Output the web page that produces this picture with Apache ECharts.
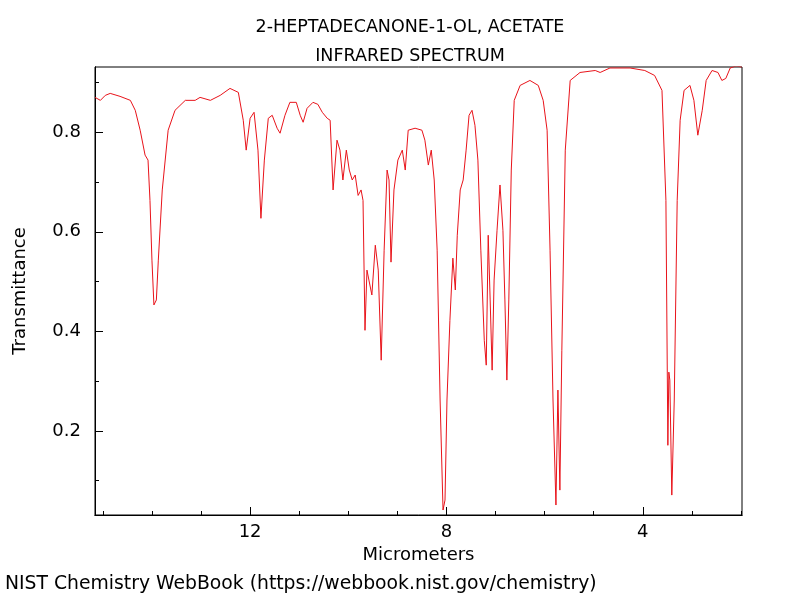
<!DOCTYPE html>
<html>
<head>
<meta charset="utf-8">
<script src="https://cdn.jsdelivr.net/npm/echarts@6/dist/echarts.min.js"></script>
<style>
    html, body { margin: 0; padding: 0; background: #fff; }
    #chart { width: 800px; height: 600px; }
</style>
</head>
<body>
<div id="chart"></div>
<script>
// wavelength (micrometers) and transmittance
const wavelength = [15.16, 15.05, 14.95, 14.85, 14.65, 14.44, 14.34, 14.24, 14.14, 14.08, 14.04, 14.00, 13.96, 13.91, 13.87, 13.79, 13.67, 13.53, 13.32, 13.12, 13.02, 12.81, 12.61, 12.41, 12.24, 12.14, 12.08, 12.00, 11.92, 11.84, 11.78, 11.71, 11.63, 11.55, 11.45, 11.39, 11.29, 11.19, 11.06, 10.98, 10.92, 10.84, 10.72, 10.62, 10.53, 10.43, 10.37, 10.31, 10.23, 10.17, 10.11, 10.04, 9.98, 9.92, 9.86, 9.80, 9.74, 9.70, 9.66, 9.62, 9.58, 9.52, 9.45, 9.39, 9.33, 9.27, 9.21, 9.17, 9.13, 9.07, 8.99, 8.90, 8.84, 8.78, 8.64, 8.50, 8.44, 8.37, 8.31, 8.25, 8.19, 8.13, 8.07, 8.03, 7.99, 7.93, 7.87, 7.82, 7.78, 7.72, 7.66, 7.60, 7.54, 7.48, 7.42, 7.36, 7.30, 7.23, 7.19, 7.15, 7.11, 7.07, 7.03, 6.97, 6.91, 6.85, 6.81, 6.77, 6.73, 6.68, 6.62, 6.50, 6.30, 6.13, 6.03, 5.95, 5.89, 5.83, 5.77, 5.73, 5.69, 5.65, 5.58, 5.48, 5.28, 4.97, 4.87, 4.67, 4.26, 3.96, 3.76, 3.61, 3.53, 3.49, 3.47, 3.45, 3.41, 3.36, 3.30, 3.24, 3.16, 3.04, 2.96, 2.88, 2.79, 2.71, 2.59, 2.47, 2.39, 2.31, 2.22, 2.10, 1.98];
const transmittance = [0.870, 0.864, 0.874, 0.878, 0.872, 0.864, 0.844, 0.804, 0.754, 0.744, 0.663, 0.543, 0.453, 0.463, 0.543, 0.684, 0.804, 0.844, 0.864, 0.864, 0.870, 0.864, 0.874, 0.888, 0.880, 0.824, 0.764, 0.828, 0.840, 0.764, 0.627, 0.744, 0.828, 0.834, 0.808, 0.798, 0.834, 0.860, 0.860, 0.834, 0.820, 0.848, 0.860, 0.856, 0.840, 0.828, 0.824, 0.684, 0.784, 0.764, 0.704, 0.764, 0.724, 0.704, 0.714, 0.673, 0.684, 0.663, 0.402, 0.523, 0.503, 0.473, 0.573, 0.523, 0.342, 0.563, 0.724, 0.704, 0.539, 0.684, 0.744, 0.764, 0.724, 0.804, 0.808, 0.804, 0.784, 0.734, 0.764, 0.704, 0.563, 0.262, 0.041, 0.061, 0.262, 0.422, 0.547, 0.483, 0.593, 0.684, 0.704, 0.764, 0.834, 0.844, 0.814, 0.744, 0.563, 0.382, 0.332, 0.593, 0.463, 0.322, 0.503, 0.603, 0.694, 0.603, 0.463, 0.302, 0.463, 0.724, 0.864, 0.894, 0.904, 0.894, 0.864, 0.804, 0.563, 0.262, 0.051, 0.282, 0.081, 0.362, 0.764, 0.904, 0.920, 0.924, 0.920, 0.929, 0.929, 0.924, 0.914, 0.884, 0.663, 0.171, 0.318, 0.302, 0.071, 0.262, 0.663, 0.824, 0.884, 0.894, 0.864, 0.794, 0.844, 0.904, 0.924, 0.920, 0.904, 0.908, 0.929, 0.933, 0.931];

const xMajor = [4, 8, 12];
const xMinor = [2, 3, 5, 6, 7, 9, 10, 11, 13, 14, 15];
const yMajor = [0.2, 0.4, 0.6, 0.8];
const yMinor = [0.1, 0.3, 0.5, 0.7, 0.9];

const xRange = [1.98, 15.16];
const yRange = [0.031, 0.931];

let chart = echarts.init(document.getElementById('chart'));
let font = 'DejaVu Sans';

function xAxis(ticks, len, labels, position) {
    return {
        type: 'value', min: xRange[0], max: xRange[1], inverse: true, position: position,
        name: labels ? 'Micrometers' : '', nameLocation: 'middle', nameGap: 31,
        nameTextStyle: { fontFamily: font, fontSize: 18, color: '#000' },
        axisLine: { show: true, lineStyle: { color: '#000' } },
        axisTick: { inside: true, length: len, customValues: ticks, lineStyle: { color: '#000' } },
        axisLabel: { show: labels, customValues: ticks, fontFamily: font, fontSize: 18, color: '#000', margin: 8 },
        splitLine: { show: false }
    };
}

function yAxis(ticks, len, labels, position) {
    return {
        type: 'value', min: yRange[0], max: yRange[1], position: position,
        name: labels ? 'Transmittance' : '', nameLocation: 'middle', nameGap: 66,
        nameTextStyle: { fontFamily: font, fontSize: 18, color: '#000' },
        axisLine: { show: true, lineStyle: { color: '#000' } },
        axisTick: { inside: true, length: len, customValues: ticks, lineStyle: { color: '#000' } },
        axisLabel: { show: labels, customValues: ticks, fontFamily: font, fontSize: 18, color: '#000', margin: 14,
            formatter: v => v.toFixed(1) },
        splitLine: { show: false }
    };
}

chart.setOption({
    animation: false,
    title: {
        text: '2-HEPTADECANONE-1-OL, ACETATE\nINFRARED SPECTRUM',
        left: 405, top: 8, textAlign: 'center',
        textStyle: { fontFamily: font, fontSize: 17.5, fontWeight: 'normal', color: '#000', lineHeight: 29 }
    },
    graphic: [{
        type: 'text', left: 5, top: 575,
        style: { text: 'NIST Chemistry WebBook (https://webbook.nist.gov/chemistry)', font: '18.8px DejaVu Sans', fill: '#000' }
    }],
    grid: { left: 95, right: 58, top: 67, bottom: 85, show: true, borderColor: '#000', borderWidth: 1 },
    xAxis: [xAxis(xMajor, 8, true, 'bottom'), xAxis(xMinor, 4, false, 'bottom')],
    yAxis: [yAxis(yMajor, 8, true, 'left'), yAxis(yMinor, 4, false, 'left')],
    series: [{
        type: 'line',
        data: wavelength.map((w, i) => [w, transmittance[i]]),
        showSymbol: false,
        lineStyle: { color: '#e8131a', width: 1 },
        itemStyle: { color: '#e8131a' }
    }]
});
</script>
</body>
</html>
